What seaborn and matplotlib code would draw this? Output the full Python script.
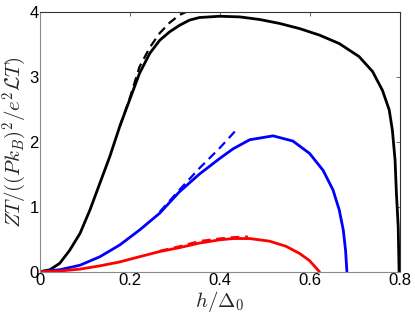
import matplotlib
matplotlib.use("Agg")
import matplotlib.pyplot as plt
import seaborn as sns

# curves (h/Delta0, ZT)
black_x = [0, 0.022, 0.044, 0.066, 0.089, 0.111, 0.133, 0.155, 0.177, 0.199, 0.221,
           0.244, 0.266, 0.288, 0.31, 0.332, 0.354, 0.399, 0.444, 0.488, 0.532,
           0.577, 0.621, 0.665, 0.709, 0.739, 0.761, 0.776, 0.783, 0.789, 0.792,
           0.796, 0.798]
black_y = [0, 0.03, 0.13, 0.33, 0.59, 0.95, 1.36, 1.77, 2.23, 2.64, 3.05,
           3.36, 3.56, 3.69, 3.79, 3.87, 3.91, 3.93, 3.92, 3.88, 3.82,
           3.74, 3.64, 3.51, 3.31, 3.08, 2.79, 2.49, 2.18, 1.72, 1.21,
           0.69, 0.0]
black_dash_x = [0.177, 0.199, 0.221, 0.244, 0.266, 0.288, 0.31, 0.326]
black_dash_y = [2.23, 2.66, 3.15, 3.45, 3.67, 3.83, 3.95, 4.0]

blue_x = [0, 0.044, 0.089, 0.133, 0.177, 0.221, 0.266, 0.31, 0.354, 0.399, 0.429,
          0.466, 0.518, 0.562, 0.599, 0.629, 0.651, 0.665, 0.674, 0.679, 0.682]
blue_y = [0, 0.03, 0.10, 0.23, 0.41, 0.64, 0.90, 1.23, 1.50, 1.74, 1.89,
          2.03, 2.09, 2.01, 1.82, 1.56, 1.26, 0.95, 0.64, 0.33, 0.0]
blue_dash_x = [0.266, 0.31, 0.354, 0.399, 0.44]
blue_dash_y = [0.92, 1.26, 1.59, 1.90, 2.21]

red_x = [0, 0.044, 0.089, 0.133, 0.177, 0.221, 0.266, 0.31, 0.354, 0.399, 0.429,
         0.466, 0.51, 0.547, 0.577, 0.599, 0.621]
red_y = [0, 0.01, 0.04, 0.09, 0.15, 0.23, 0.31, 0.37, 0.44, 0.49, 0.51,
         0.51, 0.47, 0.39, 0.28, 0.17, 0.0]
red_dash_x = [0.266, 0.31, 0.354, 0.399, 0.43, 0.462]
red_dash_y = [0.32, 0.39, 0.47, 0.51, 0.53, 0.54]

sns.set_style("white")
plt.rcParams['font.family'] = ['Liberation Sans', 'DejaVu Sans']
plt.rcParams['mathtext.fontset'] = 'cm'

fig = plt.figure(figsize=(4.15, 3.13), dpi=100)
ax = fig.add_axes([40 / 415, 1 - 271.7 / 313, 360 / 415, 260 / 313])

for xs, ys, c in [(black_x, black_y, 'black'), (blue_x, blue_y, 'blue'), (red_x, red_y, 'red')]:
    sns.lineplot(x=xs, y=ys, color=c, lw=2.0, sort=False, estimator=None, ax=ax)
for xs, ys, c in [(black_dash_x, black_dash_y, 'black'), (blue_dash_x, blue_dash_y, 'blue'),
                  (red_dash_x, red_dash_y, 'red')]:
    sns.lineplot(x=xs, y=ys, color=c, lw=1.6, sort=False, estimator=None, ax=ax,
                 linestyle=(0, (4, 2.5)))

ax.set_xlim(0, 0.8)
ax.set_ylim(0, 4)
ax.set_xticks([0, 0.2, 0.4, 0.6, 0.8])
ax.set_xticklabels(['0', '0.2', '0.4', '0.6', '0.8'])
ax.set_yticks([0, 1, 2, 3, 4])
ax.tick_params(direction='in', length=3, width=0.6, colors='#555555', labelcolor='black',
               labelsize=12, top=True, right=True, pad=1)

for side in ['left', 'bottom']:
    ax.spines[side].set_color('#8a8a8a')
for side in ['top', 'right']:
    ax.spines[side].set_color('#333333')
for s in ax.spines.values():
    s.set_linewidth(0.8)

ax.set_xlabel(r'$h/\Delta_0$', fontsize=15, labelpad=0.5)
ax.set_ylabel(r'$ZT/((Pk_B)^2/e^2\mathcal{L}T)$', fontsize=15, labelpad=0)

fig.savefig('out.png', dpi=100)
